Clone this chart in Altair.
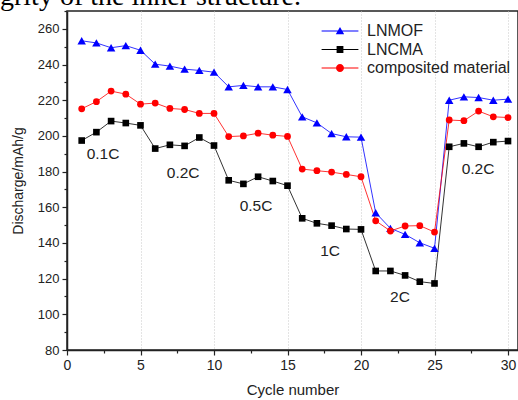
import altair as alt
import pandas as pd

# ---------------- data ----------------
cycles = list(range(1, 31))
series_names = ["LNMOF", "LNCMA", "composited material"]
lnmof = [253.3, 252.1, 249.4, 250.6, 248.0, 240.2, 239.1, 237.4, 236.7, 235.7,
         227.5, 228.3, 227.5, 227.5, 226.0, 210.7, 207.3, 201.3, 199.5, 199.3,
         156.9, 148.2, 144.8, 140.1, 137.0, 220.0, 221.9, 221.5, 220.0, 220.6]
lncma = [197.4, 202.1, 208.3, 207.2, 205.9, 192.9, 195.0, 194.4, 199.1, 194.6,
         175.1, 173.1, 177.1, 174.7, 172.1, 153.8, 151.0, 149.7, 147.8, 147.6,
         124.3, 124.3, 121.8, 118.3, 117.3, 193.9, 195.8, 193.9, 196.5, 197.1]
composite = [215.2, 219.2, 225.1, 223.4, 217.8, 218.4, 215.4, 214.8, 212.6, 212.6,
             199.6, 200.0, 201.5, 200.4, 199.7, 181.4, 180.5, 179.7, 178.4, 177.1,
             152.4, 146.7, 149.5, 149.7, 146.1, 208.9, 208.5, 213.9, 210.7, 210.3]

rate_labels = ["0.1C", "0.2C", "0.5C", "1C", "2C", "0.2C"]
rate_x = [2.45, 7.9, 12.86, 17.9, 22.65, 27.96]
rate_y = [189.8, 179.2, 160.7, 135.5, 109.7, 181.4]

caption_text = ["grity of the inner structure."]

x_major = [0, 5, 10, 15, 20, 25, 30]
x_minor = [2.5, 7.5, 12.5, 17.5, 22.5, 27.5]
y_major = list(range(80, 261, 20))
y_minor = list(range(90, 271, 20))

# ---------------- styling ----------------
series_colors = ["#0000ff", "#000000", "#ff0000"]
marker_shapes = ["triangle-up", "square", "circle"]
marker_sizes = [72, 44, 46]
legend_paths = [
    "M-4.6,-0.13H4.6V0.13H-4.6Z M0,-1L1.05,0.8L-1.05,0.8Z",
    "M-4.6,-0.13H4.6V0.13H-4.6Z M-0.85,-0.85H0.85V0.85H-0.85Z",
    "M-4.6,-0.13H4.6V0.13H-4.6Z M-1,0A1,1 0 1,1 1,0A1,1 0 1,1 -1,0Z",
]
FONT = "Liberation Sans"
TXT = "#222222"

rows = []
for name, vals in zip(series_names, [lnmof, lncma, composite]):
    for c, v in zip(cycles, vals):
        rows.append({"cycle": c, "value": v, "series": name})
df = pd.DataFrame(rows)
rates = pd.DataFrame({"rx": rate_x, "ry": rate_y, "label": rate_labels})
caption = pd.DataFrame({"t": caption_text})

xscale = alt.Scale(domain=[0, 30.68], nice=False, zero=False)
yscale = alt.Scale(domain=[80, 270], nice=False, zero=False)
cscale = alt.Scale(domain=series_names, range=series_colors)

x_axis = alt.Axis(values=x_major, orient="bottom", title="Cycle number",
                  titleFont=FONT, titleFontSize=15, titleFontWeight="normal",
                  titleColor=TXT, titlePadding=10,
                  labelFont=FONT, labelFontSize=14, labelColor=TXT, labelPadding=3,
                  labelFlush=False,
                  tickSize=5, tickColor=TXT, tickWidth=1.2,
                  domainColor=TXT, domainWidth=1.5,
                  grid=True, gridColor="#c8c8c8", gridDash=[1, 2], gridWidth=1)
y_axis = alt.Axis(values=y_major, orient="left", title="Discharge/mAh/g",
                  titleFont=FONT, titleFontSize=14, titleFontWeight="normal",
                  titleColor=TXT, titlePadding=12,
                  labelFont=FONT, labelFontSize=13, labelColor=TXT, labelPadding=3,
                  tickSize=5, tickColor=TXT, tickWidth=1.2,
                  domainColor=TXT, domainWidth=1.5, grid=False)
x_axis_minor = alt.Axis(values=x_minor, orient="bottom", title=None, labels=False,
                        domain=False, grid=False, tickSize=3, tickColor=TXT, tickWidth=1.2)
y_axis_minor = alt.Axis(values=y_minor, orient="left", title=None, labels=False,
                        domain=False, grid=False, tickSize=3, tickColor=TXT, tickWidth=1.2)

base = alt.Chart(df)

leg = alt.Legend(orient="none", legendX=265, legendY=12, title=None,
                 labelFont=FONT, labelFontSize=16, labelColor=TXT,
                 symbolSize=64, symbolStrokeWidth=0, labelOffset=19,
                 rowPadding=2.5, padding=0, offset=0)

# legend-only layer (first, so its legend definition wins the merge)
legend_layer = (
    base.transform_filter("datum.cycle < 0")
    .mark_point(filled=True, opacity=1)
    .encode(
        x=alt.X("cycle:Q", scale=xscale, axis=None),
        y=alt.Y("value:Q", scale=yscale, axis=None),
        color=alt.Color("series:N", scale=cscale, legend=leg),
        shape=alt.Shape("series:N", scale=alt.Scale(domain=series_names, range=legend_paths),
                        legend=leg),
    )
)

lines = base.mark_line(strokeWidth=1, opacity=0.8).encode(
    x=alt.X("cycle:Q", scale=xscale, axis=x_axis),
    y=alt.Y("value:Q", scale=yscale, axis=y_axis),
    color=alt.Color("series:N", scale=cscale, legend=None),
)

point_layers = []
for name, shp, sz in zip(series_names, marker_shapes, marker_sizes):
    point_layers.append(
        base.transform_filter(alt.datum.series == name)
        .mark_point(shape=shp, size=sz, filled=True, opacity=1, strokeWidth=0)
        .encode(
            x=alt.X("cycle:Q", scale=xscale, axis=None),
            y=alt.Y("value:Q", scale=yscale, axis=None),
            color=alt.Color("series:N", scale=cscale, legend=None),
        )
    )

texts = alt.Chart(rates).mark_text(font=FONT, fontSize=15.5, color=TXT).encode(
    x=alt.X("rx:Q", scale=xscale, axis=x_axis_minor),
    y=alt.Y("ry:Q", scale=yscale, axis=y_axis_minor),
    text="label:N",
)

# cropped line of body text above the figure (part of the reference picture)
cap = alt.Chart(caption).mark_text(
    font="Liberation Serif", fontSize=28, color="black",
    align="left", baseline="alphabetic",
).encode(x=alt.value(-67), y=alt.value(-6), text="t:N")

chart = (
    alt.layer(legend_layer, lines, *point_layers, texts, cap)
    .resolve_axis(x="independent", y="independent")
    .properties(
        width=451, height=339,
        padding={"left": 67, "top": 11, "right": 0, "bottom": 50},
        autosize=alt.AutoSizeParams(type="none"),
        background="white",
    )
    .configure_view(stroke=TXT, strokeWidth=1.5)
)

chart.save("out.html", embed_options={"renderer": "svg", "actions": False})
